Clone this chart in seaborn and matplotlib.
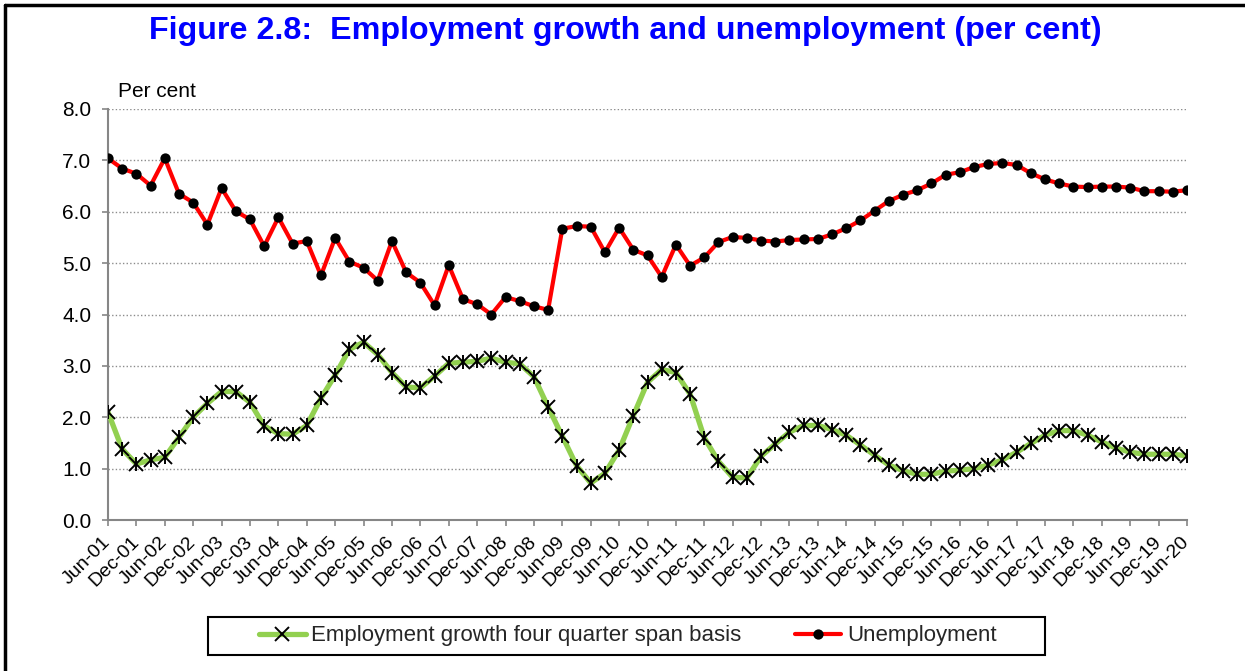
import numpy as np
import pandas as pd
import matplotlib
matplotlib.use("Agg")
import matplotlib.pyplot as plt
from matplotlib.lines import Line2D
from matplotlib.patches import Rectangle
import seaborn as sns

# Quarterly series, June 2001 to June 2020 (per cent)
employment_growth = [
    2.10, 1.38, 1.09, 1.17, 1.22, 1.61, 2.00, 2.27, 2.50, 2.50, 2.29, 1.83, 1.68, 1.67,
    1.84, 2.37, 2.82, 3.32, 3.46, 3.22, 2.87, 2.59, 2.57, 2.80, 3.05, 3.07, 3.09, 3.15,
    3.07, 3.04, 2.79, 2.20, 1.63, 1.06, 0.72, 0.91, 1.36, 2.03, 2.68, 2.93, 2.87, 2.45,
    1.60, 1.14, 0.83, 0.82, 1.24, 1.48, 1.71, 1.84, 1.84, 1.76, 1.65, 1.46, 1.26, 1.07,
    0.96, 0.89, 0.89, 0.95, 0.97, 1.00, 1.07, 1.17, 1.32, 1.49, 1.65, 1.74, 1.74, 1.65,
    1.52, 1.40, 1.32, 1.28, 1.28, 1.28, 1.25,
]
unemployment = [
    7.04, 6.84, 6.74, 6.51, 7.04, 6.35, 6.18, 5.75, 6.46, 6.01, 5.85, 5.33, 5.89, 5.38,
    5.43, 4.76, 5.49, 5.03, 4.91, 4.66, 5.43, 4.82, 4.62, 4.18, 4.96, 4.30, 4.20, 4.00,
    4.34, 4.26, 4.16, 4.09, 5.67, 5.72, 5.71, 5.21, 5.69, 5.26, 5.15, 4.73, 5.36, 4.95,
    5.11, 5.41, 5.51, 5.49, 5.44, 5.42, 5.45, 5.46, 5.47, 5.56, 5.68, 5.83, 6.02, 6.21,
    6.33, 6.42, 6.55, 6.72, 6.77, 6.87, 6.93, 6.95, 6.91, 6.75, 6.63, 6.55, 6.49, 6.48,
    6.49, 6.49, 6.47, 6.40, 6.40, 6.39, 6.42,
]
# Half-yearly axis labels (every second quarter)
tick_labels = [
    "Jun-01", "Dec-01", "Jun-02", "Dec-02", "Jun-03", "Dec-03", "Jun-04", "Dec-04",
    "Jun-05", "Dec-05", "Jun-06", "Dec-06", "Jun-07", "Dec-07", "Jun-08", "Dec-08",
    "Jun-09", "Dec-09", "Jun-10", "Dec-10", "Jun-11", "Dec-11", "Jun-12", "Dec-12",
    "Jun-13", "Dec-13", "Jun-14", "Dec-14", "Jun-15", "Dec-15", "Jun-16", "Dec-16",
    "Jun-17", "Dec-17", "Jun-18", "Dec-18", "Jun-19", "Dec-19", "Jun-20",
]
y_ticks = [0.0, 1.0, 2.0, 3.0, 4.0, 5.0, 6.0, 7.0, 8.0]

emp_label = "Employment growth four quarter span basis"
unemp_label = "Unemployment"

df = pd.DataFrame({
    "quarter": np.arange(len(unemployment)),
    "emp": employment_growth,
    "unemp": unemployment,
})

sns.set_theme(style="white")
plt.rcParams["font.family"] = ["Liberation Sans", "DejaVu Sans"]

W, H = 1245, 671
fig = plt.figure(figsize=(W / 100, H / 100), dpi=100)
fig.patch.set_facecolor("white")

ax = fig.add_axes([108 / W, 1 - 520 / H, (1187 - 108) / W, (520 - 109) / H])

grey = "#868686"
green = "#92D050"
red = "#FF0000"

# Employment growth: green line with star markers (x plus vertical bar)
sns.lineplot(data=df, x="quarter", y="emp", ax=ax, color=green, linewidth=3.8,
             marker="x", markersize=9.5, markeredgecolor="black",
             markeredgewidth=1.4, label=emp_label, zorder=3)
ax.plot(df["quarter"], df["emp"], linestyle="none", marker="|", markersize=9.5,
        markeredgecolor="black", markeredgewidth=1.4, zorder=4)

# Unemployment: red line with black dots
sns.lineplot(data=df, x="quarter", y="unemp", ax=ax, color=red, linewidth=3.0,
             marker="o", markersize=7.4, markerfacecolor="black",
             markeredgecolor="black", markeredgewidth=0, label=unemp_label, zorder=5)

ax.set_xlim(0, len(unemployment) - 1)
ax.set_ylim(0, 8)
ax.set_xlabel("")
ax.set_ylabel("")

ax.set_yticks(y_ticks)
ax.set_yticklabels([f"{v:.1f}" for v in y_ticks], fontsize=15, color="black")
ax.set_xticks(np.arange(0, len(unemployment), 2))
ax.set_xticklabels(tick_labels, fontsize=14, color="black", rotation=45,
                   ha="right", va="center", rotation_mode="anchor")

ax.tick_params(axis="both", which="major", length=4, width=1.2, color=grey,
               direction="out", bottom=True, left=True)
ax.tick_params(axis="x", pad=10)
ax.tick_params(axis="y", pad=8)

for side in ("top", "right"):
    ax.spines[side].set_visible(False)
for side in ("left", "bottom"):
    ax.spines[side].set_color(grey)
    ax.spines[side].set_linewidth(1.5)

ax.yaxis.grid(True, color="#8c8c8c", linestyle=(0, (1, 1.6)), linewidth=1.0)
ax.xaxis.grid(False)
ax.set_axisbelow(True)

handles, labels = ax.get_legend_handles_labels()
ax.get_legend().remove()

# Legend with a hand-drawn frame
fig.add_artist(Rectangle((208 / W, 1 - 655 / H), (1045 - 208) / W, (655 - 617) / H,
                         transform=fig.transFigure, fill=False, edgecolor="black",
                         linewidth=1.5))
fig.legend(handles, labels, loc="center left", bbox_to_anchor=(259 / W, 1 - 636 / H),
           ncol=2, frameon=False, fontsize=16, borderpad=0, handlelength=2.1,
           handletextpad=0.25, columnspacing=2.4, borderaxespad=0)

fig.text(625 / W, 1 - 39 / H,
         "Figure 2.8:  Employment growth and unemployment (per cent)",
         ha="center", va="baseline", fontsize=23.2, fontweight="bold", color="#0000FF")
fig.text(118 / W, 1 - 97 / H, "Per cent", ha="left", va="baseline", fontsize=15,
         color="black")

# Frame along the top and left edges
fig.add_artist(Line2D([5 / W, 1], [1 - 5 / H, 1 - 5 / H], transform=fig.transFigure,
                      color="black", linewidth=2.5))
fig.add_artist(Line2D([5 / W, 5 / W], [0, 1 - 5 / H], transform=fig.transFigure,
                      color="black", linewidth=2.5))

fig.savefig("out.png", dpi=100, facecolor="white")
